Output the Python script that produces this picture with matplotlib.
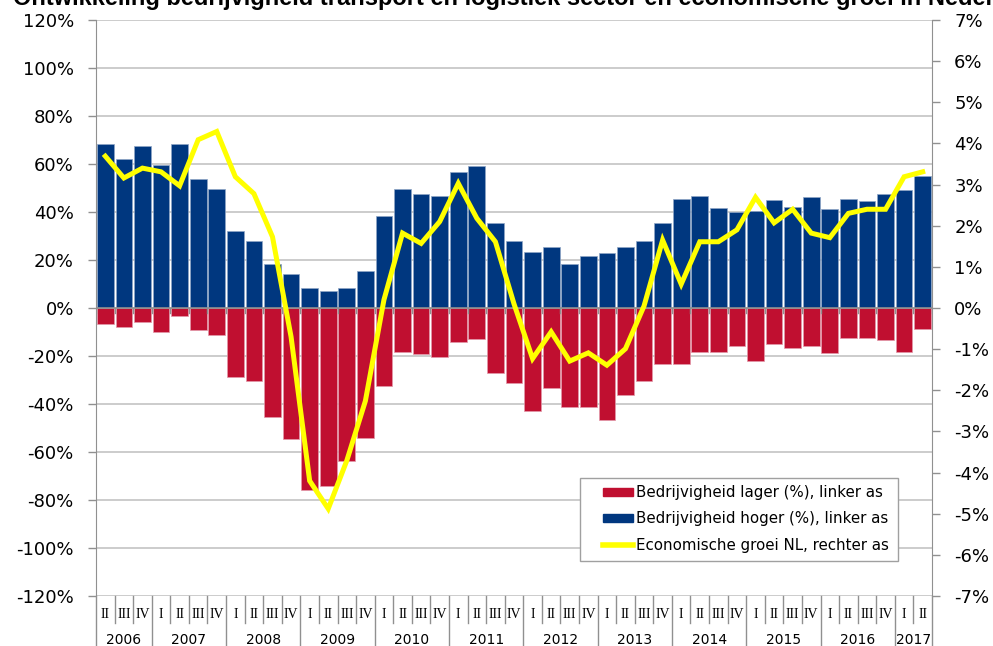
import matplotlib.pyplot as plt
import matplotlib.transforms as mtransforms
from matplotlib.patches import Patch, Rectangle
from matplotlib.lines import Line2D

years = ['2006', '2007', '2008', '2009', '2010', '2011', '2012',
         '2013', '2014', '2015', '2016', '2017']
quarters_per_year = [['II', 'III', 'IV']] + [['I', 'II', 'III', 'IV']] * 10 + [['I', 'II']]

# bedrijvigheid hoger (%), linker as
hoger = [68.3, 62.1, 67.5, 59.6, 68.3, 53.6, 49.4, 32.1, 27.9, 18.3, 14.2, 8.2,
         6.9, 8.2, 15.3, 38.5, 49.4, 47.3, 46.5, 56.7, 59.2, 35.4, 27.9, 23.3,
         25.5, 18.3, 21.7, 22.9, 25.5, 27.9, 35.4, 45.5, 46.5, 41.8, 40.1, 40.5,
         44.8, 42.2, 46.1, 41.4, 45.3, 44.4, 47.3, 49.0, 55.0]
# bedrijvigheid lager (%), linker as
lager = [-6.7, -8.1, -6.0, -10.2, -3.2, -9.3, -11.4, -28.8, -30.3, -45.4, -54.7,
         -75.8, -74.2, -63.6, -54.3, -32.5, -18.2, -19.0, -20.3, -14.3, -13.1,
         -27.0, -31.3, -42.9, -33.3, -41.3, -41.3, -46.7, -36.3, -30.3, -23.2,
         -23.2, -18.2, -18.2, -15.7, -22.1, -15.1, -16.5, -15.7, -18.6, -12.6,
         -12.6, -13.2, -18.5, -8.9]
# economische groei NL (%), rechter as
groei = [3.69, 3.16, 3.40, 3.31, 2.97, 4.09, 4.29, 3.19, 2.78, 1.73, -0.7, -4.2,
         -4.88, -3.71, -2.26, 0.2, 1.82, 1.57, 2.10, 3.03, 2.18, 1.61, 0.1, -1.23,
         -0.58, -1.29, -1.09, -1.39, -0.99, 0.05, 1.65, 0.58, 1.61, 1.61, 1.90,
         2.69, 2.07, 2.40, 1.82, 1.71, 2.30, 2.40, 2.40, 3.19, 3.31]

left_ticks = list(range(-120, 121, 20))
right_ticks = list(range(-7, 8))

red = '#C00F30'
blue = '#00377F'
yellow = '#FFFF00'
grid_c = '#C8C8C8'
axis_c = '#909090'

x = list(range(len(hoger)))

fig = plt.figure(figsize=(9.93, 6.46), dpi=100)
ax = fig.add_axes([96 / 993, 1 - 596 / 646, 836 / 993, 576 / 646])
ax2 = ax.twinx()

ax.bar(x, hoger, width=0.9, color=blue, edgecolor='#8FA6C6', linewidth=0.5, zorder=2)
ax.bar(x, lager, width=0.9, color=red, edgecolor='#E29AAA', linewidth=0.5, zorder=2)
ax.axhline(0, color=axis_c, lw=1.2, zorder=3)
for i in range(len(x) + 1):
    ax.plot([i - 0.5, i - 0.5], [0, -2], color=axis_c, lw=1, zorder=3)

ax.set_xlim(-0.5, len(x) - 0.5)
ax.set_ylim(-120, 120)
ax.set_yticks(left_ticks)
ax.set_yticklabels([f'{v}%' for v in left_ticks])
ax.set_xticks([])
for v in left_ticks:
    if v != 0:
        ax.axhline(v, color=grid_c, lw=1.3, zorder=1)

ax2.plot(x, groei, color=yellow, lw=3.6, solid_joinstyle='miter', zorder=4)
ax2.set_ylim(-7, 7)
ax2.set_yticks(right_ticks)
ax2.set_yticklabels([f'{v}%' for v in right_ticks])

for a in (ax, ax2):
    a.spines['top'].set_visible(False)
    a.spines['bottom'].set_visible(False)
    a.spines['left'].set_color(axis_c)
    a.spines['right'].set_color(axis_c)
    a.tick_params(axis='y', colors=axis_c, length=6, width=1, labelsize=13,
                  labelcolor='black', pad=10)
ax.spines['right'].set_visible(False)
ax2.spines['left'].set_visible(False)

# category axis below the plot (quarters and years)
trans = mtransforms.blended_transform_factory(ax.transData, ax.transAxes)
q_y = -(614 - 596) / 576
yr_y = -(640 - 596) / 576
sep_q = -(623 - 596) / 576
sep_y = -(646 - 596) / 576
pos = 0
for yr, qs in zip(years, quarters_per_year):
    start = pos
    for q in qs:
        ax.text(pos, q_y, q, transform=trans, ha='center', va='center',
                fontsize=10, family='Liberation Serif')
        if pos > start:
            ax.plot([pos - 0.5, pos - 0.5], [0, sep_q], transform=trans,
                    color=axis_c, lw=1, clip_on=False)
        pos += 1
    ax.text((start + pos - 1) / 2, yr_y, yr, transform=trans, ha='center',
            va='center', fontsize=10)
    ax.plot([start - 0.5, start - 0.5], [0, sep_y], transform=trans,
            color=axis_c, lw=1, clip_on=False)
ax.plot([pos - 0.5, pos - 0.5], [0, sep_y], transform=trans,
        color=axis_c, lw=1, clip_on=False)

# legend box drawn by hand so the padding matches
ax2.add_patch(Rectangle(((580 - 96) / 836, (596 - 561) / 576), 318 / 836, 83 / 576,
                        transform=ax2.transAxes, facecolor='white',
                        edgecolor='#A0A0A0', lw=1, zorder=5))
handles = [Patch(facecolor=red, edgecolor=red),
           Patch(facecolor=blue, edgecolor=blue),
           Line2D([0], [0], color=yellow, lw=4)]
labels = ['Bedrijvigheid lager (%), linker as',
          'Bedrijvigheid hoger (%), linker as',
          'Economische groei NL, rechter as']
leg = ax2.legend(handles, labels, loc='center left',
                 bbox_to_anchor=((603 - 96) / 836, (596 - 519) / 576),
                 fontsize=10.8, frameon=False, borderpad=0,
                 handlelength=2.0, handleheight=0.45, handletextpad=0.2,
                 labelspacing=0.75, borderaxespad=0)
leg.set_zorder(6)

fig.text(13 / 993, 1 - 5 / 646,
         'Ontwikkeling bedrijvigheid transport en logistiek sector en economische groei in Nederland',
         ha='left', va='baseline', fontsize=17, fontweight='bold', family='Liberation Sans')

fig.savefig('out.png', dpi=100)
